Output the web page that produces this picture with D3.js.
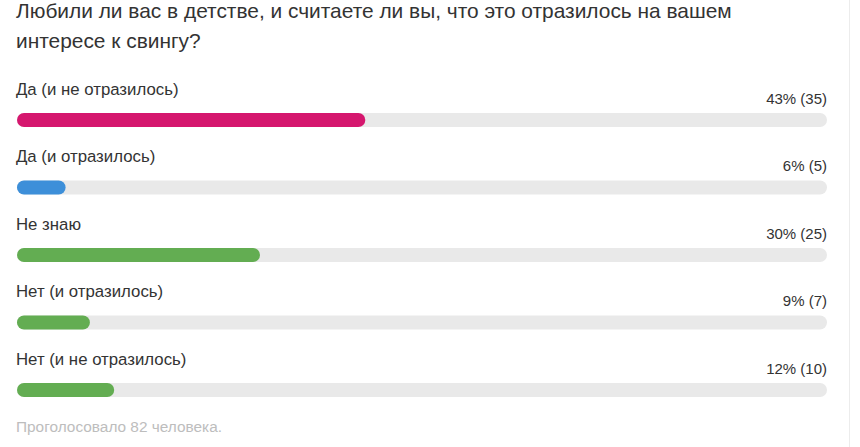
<!DOCTYPE html>
<html><head><meta charset="utf-8">
<script src="https://cdn.jsdelivr.net/npm/d3@7/dist/d3.min.js"></script>
<style>html,body{margin:0;padding:0;background:#fff;}svg{display:block;}</style>
</head><body>
<svg id="c" width="860" height="447"></svg>
<script>
const titleLines = ["Любили ли вас в детстве, и считаете ли вы, что это отразилось на вашем", "интересе к свингу?"];
const categories = ["Да (и не отразилось)", "Да (и отразилось)", "Не знаю", "Нет (и отразилось)", "Нет (и не отразилось)"];
const percents = [43, 6, 30, 9, 12];
const counts = [35, 5, 25, 7, 10];
const colors = ["#d5176e", "#3d8fd9", "#63ad52", "#63ad52", "#63ad52"];
const footer = "Проголосовало 82 человека.";

const svg = d3.select("#c");
const font = "Arial, 'Liberation Sans', sans-serif";

svg.append("line").attr("x1", 849.5).attr("x2", 849.5).attr("y1", 0).attr("y2", 447)
  .attr("stroke", "#ececec").attr("stroke-width", 1);

svg.selectAll("text.title").data(titleLines).join("text")
  .attr("class", "title")
  .attr("x", 16).attr("y", (d, i) => 17.5 + i * 30)
  .attr("font-family", font).attr("font-size", 20.9).attr("fill", "#333")
  .text(d => d);

const x = d3.scaleLinear().domain([0, 100]).range([17, 827]);
const y = d3.scaleBand().domain(categories).range([79, 416.5]);
const barH = 14;

const rows = svg.selectAll("g.row").data(categories).join("g").attr("class", "row")
  .attr("transform", d => `translate(0,${y(d)})`);

rows.append("text").attr("x", 16).attr("y", 15.5)
  .attr("font-family", font).attr("font-size", 16.8).attr("fill", "#333")
  .text(d => d);

rows.append("text").attr("x", x(100)).attr("y", 24.5).attr("text-anchor", "end")
  .attr("font-family", font).attr("font-size", 15).attr("fill", "#333")
  .text((d, i) => `${percents[i]}% (${counts[i]})`);

rows.append("rect").attr("x", x(0)).attr("y", 34).attr("width", x(100) - x(0)).attr("height", barH)
  .attr("rx", barH / 2).attr("fill", "#e9e9e9");
rows.append("rect").attr("x", x(0)).attr("y", 34)
  .attr("width", (d, i) => x(percents[i]) - x(0)).attr("height", barH)
  .attr("rx", barH / 2).attr("fill", (d, i) => colors[i]);

svg.append("text").attr("x", 16).attr("y", 432)
  .attr("font-family", font).attr("font-size", 15.4).attr("fill", "#bdbdbd")
  .text(footer);
</script>
</body></html>
